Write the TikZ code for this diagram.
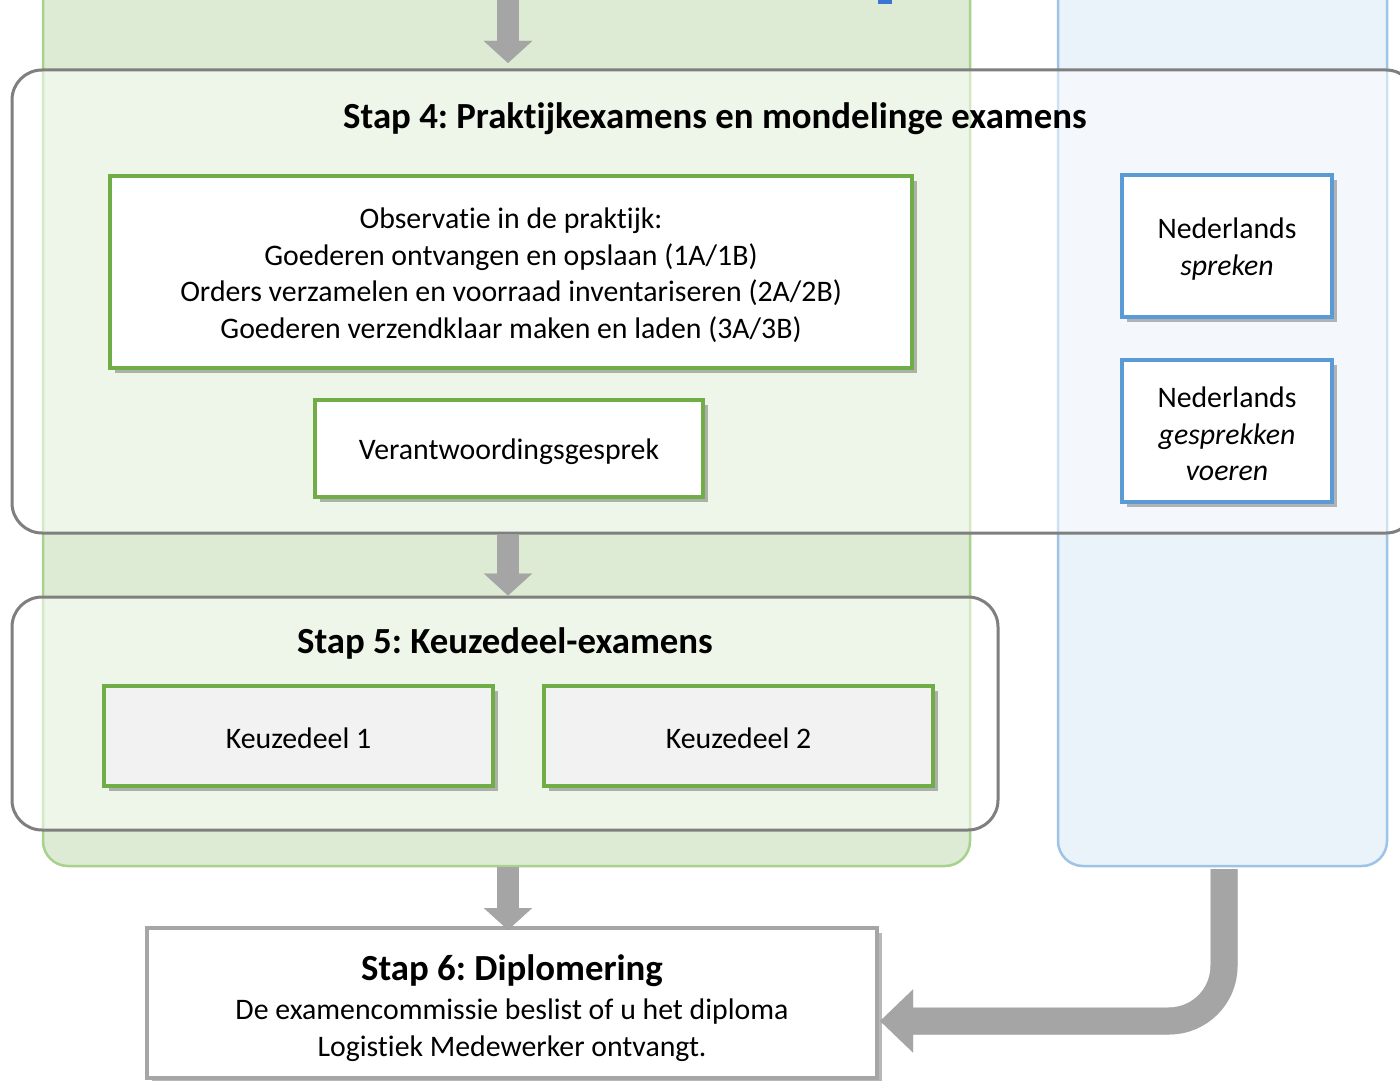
\documentclass[tikz,border=0pt]{standalone}
\usepackage{fontspec}
\setmainfont[Ligatures={NoCommon}]{Carlito}
\usetikzlibrary{arrows.meta,shadows}
\definecolor{colgreenfill}{HTML}{DDEBD4}
\definecolor{colgreenline}{HTML}{A9D18E}
\definecolor{colbluefill}{HTML}{EAF2FA}
\definecolor{colblueline}{HTML}{9DC3E6}
\definecolor{framegray}{HTML}{7F7F7F}
\definecolor{boxgreen}{HTML}{70AD47}
\definecolor{boxblue}{HTML}{5B9BD5}
\definecolor{keuzefill}{HTML}{F2F2F2}
\definecolor{sixgray}{HTML}{A6A6A6}
\definecolor{arrowgray}{HTML}{A5A5A5}
\definecolor{markblue}{HTML}{3C74D6}
\newcommand{\bodyfont}{\fontsize{29.8}{36.5}\selectfont}
\newcommand{\titlefont}{\fontsize{36.8}{44}\selectfont\bfseries}
\tikzset{
  column/.style={minimum width=#1, minimum height=896pt, inner sep=0pt, rounded corners=25pt, line width=2.5pt},
  stepframe/.style={draw=framegray, line width=3pt, fill=white, fill opacity=0.5, text opacity=1, rounded corners=30pt, inner sep=0pt},
  boxshadow/.style={drop shadow={shadow xshift=5pt, shadow yshift=-5pt, fill=black, opacity=0.28}},
  greenbox/.style={draw=boxgreen, line width=3.5pt, fill=white, inner sep=0pt, boxshadow},
  bluebox/.style={draw=boxblue, line width=3.5pt, fill=white, inner sep=0pt, boxshadow},
  keuzebox/.style={greenbox, fill=keuzefill},
  sixbox/.style={draw=sixgray, line width=3.5pt, fill=white, inner sep=0pt, boxshadow},
  titletext/.style={font=\titlefont, inner sep=0pt},
  bodytext/.style={font=\bodyfont, align=center, inner sep=0pt},
  blockarrow/.style={draw=arrowgray, line width=22pt, -{Triangle[width=47pt,length=22pt]}},
  blockshadow/.style={draw=black, draw opacity=0.18, line width=22pt, -{Triangle[width=47pt,length=22pt]}, xshift=3pt, yshift=-3pt},
}
\frenchspacing
\begin{document}
\begin{tikzpicture}[x=1pt,y=-1pt]
\useasboundingbox (0,0) rectangle (1400,1081);
\fill[white] (0,0) rectangle (1400,1081);
% columns
\node[column=927pt, draw=colgreenline, fill=colgreenfill] (gcol) at (506.5,418) {};
\node[column=329pt, draw=colblueline, fill=colbluefill] (bcol) at (1222.5,418) {};
\fill[markblue] (878,-2) rectangle (892,4);
% step frames
\node[stepframe, minimum width=1404pt, minimum height=463pt] (s4) at (714,301.5) {};
\node[stepframe, minimum width=986pt, minimum height=233pt] (s5) at (505,713.5) {};
\node[titletext] (t4) at (715,119) {Stap 4: Praktijkexamens en mondelinge examens};
\node[titletext] (t5) at (505,643) {Stap 5: Keuzedeel-examens};
% step 4 boxes
\node[greenbox, minimum width=802pt, minimum height=192pt] (obs) at (511,272) {};
\node[bodytext] (obst) at (511,275) {Observatie in de praktijk:\\Goederen ontvangen en opslaan (1A/1B)\\Orders verzamelen en voorraad inventariseren (2A/2B)\\Goederen verzendklaar maken en laden (3A/3B)};
\node[greenbox, minimum width=388pt, minimum height=97pt] (ver) at (509,448.5) {};
\node[bodytext] (vert) at (509,452) {Verantwoordingsgesprek};
\node[bluebox, minimum width=210pt, minimum height=142pt] (nsp) at (1227,246) {};
\node[bodytext] (nspt) at (1227,249) {Nederlands\\\textit{spreken}};
\node[bluebox, minimum width=210pt, minimum height=142pt] (nge) at (1227,431) {};
\node[bodytext] (nget) at (1227,434) {Nederlands\\\textit{gesprekken}\\\textit{voeren}};
% step 5 boxes
\node[keuzebox, minimum width=389pt, minimum height=100pt] (k1) at (298.5,736) {};
\node[bodytext] (k1t) at (298.5,738) {Keuzedeel 1};
\node[keuzebox, minimum width=389pt, minimum height=100pt] (k2) at (738.5,736) {};
\node[bodytext] (k2t) at (738.5,738) {Keuzedeel 2};
% step 6
\node[sixbox, minimum width=730pt, minimum height=150pt] (s6) at (512,1003) {};
\node[titletext] (t6) at (512,971) {Stap 6: Diplomering};
\node[bodytext] (b6) at (512,1030) {De examencommissie beslist of u het diploma\\Logistiek Medewerker ontvangt.};
% arrows
\coordinate (a0) at (508,-5);
\coordinate (a0e) at (508,63);
\coordinate (a1) at (s4.south -| a0);
\coordinate (a1e) at (s5.north -| a0);
\coordinate (a2) at (gcol.south -| a0);
\coordinate (a2e) at (508,930);
\coordinate (c0) at (1224,869);
\coordinate (c1) at (1224,1021);
\coordinate (c2) at (880,1021);
\foreach \p/\q in {a0/a0e, a1/a1e, a2/a2e}{
  \draw[blockshadow] (\p) -- (\q);
  \draw[blockarrow] (\p) -- (\q);
}
\draw[draw=black, draw opacity=0.18, line width=27pt, rounded corners=55pt, -{Triangle[width=61pt,length=33pt]}, xshift=4pt, yshift=-4pt] (c0) -- (c1) -- (c2);
\draw[draw=arrowgray, line width=27pt, rounded corners=55pt, -{Triangle[width=61pt,length=33pt]}] (c0) -- (c1) -- (c2);
\end{tikzpicture}
\end{document}
